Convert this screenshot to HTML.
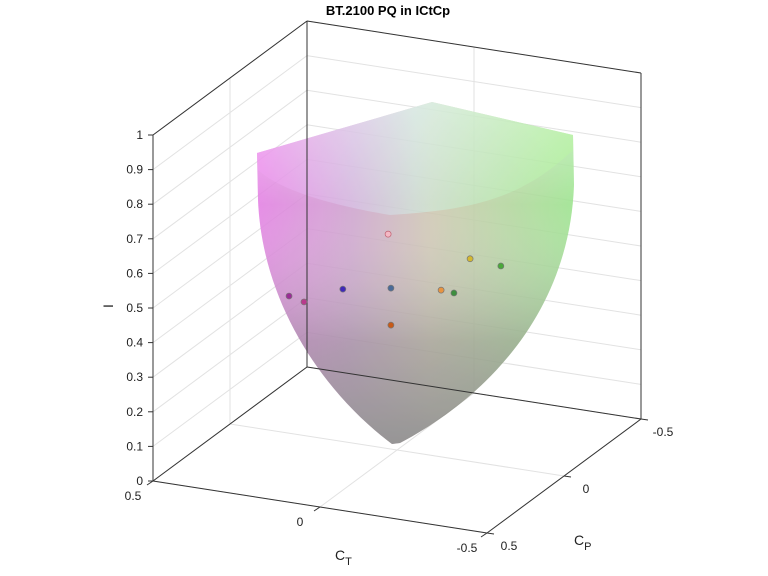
<!DOCTYPE html>
<html><head><meta charset="utf-8"><style>
html,body{margin:0;padding:0;background:#fff;}
svg{display:block;font-family:"Liberation Sans",sans-serif;}
</style></head><body>
<svg id="chart" width="768" height="576" viewBox="0 0 768 576">
<defs>
<linearGradient id="hue" x1="0" y1="0" x2="1" y2="0">
<stop offset="0" stop-color="#e070e0"/><stop offset="0.3" stop-color="#c898c8"/><stop offset="0.55" stop-color="#c8c0a8"/><stop offset="1" stop-color="#90e080"/>
</linearGradient>
<linearGradient id="shade" x1="0" y1="0" x2="0" y2="1">
<stop offset="0" stop-color="#fff" stop-opacity="0.5"/><stop offset="0.3" stop-color="#fff" stop-opacity="0.1"/><stop offset="0.7" stop-color="#888" stop-opacity="0.5"/><stop offset="1" stop-color="#858585" stop-opacity="0.95"/>
</linearGradient>
<linearGradient id="cap" x1="0" y1="0" x2="1" y2="0">
<stop offset="0" stop-color="#f490f4"/><stop offset="0.5" stop-color="#c8fcf4"/><stop offset="1" stop-color="#b0f890"/>
</linearGradient>
</defs>
<g id="grid"></g>
<g id="gamut" opacity="0.88">
<path d="M257,153 L432,102 L573,135 L574,185 C570,300 500,390 400,443 L392,444 C320,390 262,300 258,200 Z" fill="url(#hue)"/>
<path d="M257,153 L432,102 L573,135 L574,185 C570,300 500,390 400,443 L392,444 C320,390 262,300 258,200 Z" fill="url(#shade)"/>
<path d="M257,153 L432,102 L573,135 L573,150 C520,200 470,210 390,215 C330,205 280,190 258,170 Z" fill="url(#cap)" opacity="0.4"/>
</g>
<g id="box"></g>
<g id="pts"></g>
<g id="ticks" font-size="12" fill="#222"></g>
<text x="388" y="15" text-anchor="middle" font-size="13" font-weight="bold" fill="#000">BT.2100 PQ in ICtCp</text>
<text x="0" y="0" transform="translate(113,306) rotate(-90)" text-anchor="middle" font-size="14" fill="#222">I</text>
<text x="335" y="560" font-size="14" fill="#222">C<tspan font-size="11" dy="5">T</tspan></text>
<text x="574" y="545" font-size="14" fill="#222">C<tspan font-size="11" dy="5">P</tspan></text>
</svg>
<script>
const ptCT=[0.267,0.230,0.134,0.022,0.015,0.015,-0.109,-0.141,-0.181,-0.257];
const ptCP=[0.122,0.105,0.061,0.010,0.007,0.007,-0.050,-0.064,-0.082,-0.117];
const ptI=[0.445,0.428,0.465,0.624,0.468,0.361,0.462,0.454,0.553,0.532];
const ptColor=["#9a2c96","#b83a8c","#4028b8","#f4b8c4","#4a6a98","#c85a18","#e89440","#3e8e3e","#d4b830","#4aa83a"];
const iTicks=[0,0.1,0.2,0.3,0.4,0.5,0.6,0.7,0.8,0.9,1];
const ctTicks=[0.5,0,-0.5];
const cpTicks=[0.5,0,-0.5];
const NS="http://www.w3.org/2000/svg";
function P(ct,cp,i){const a=0.5-ct,b=0.5-cp;return [153+a*334+b*154,481+a*52-b*114-i*346];}
function line(g,p,q,st,w,name){const l=document.createElementNS(NS,'line');
l.setAttribute('x1',p[0]);l.setAttribute('y1',p[1]);l.setAttribute('x2',q[0]);l.setAttribute('y2',q[1]);
l.setAttribute('stroke',st);l.setAttribute('stroke-width',w);


g.appendChild(l);}
function txt(g,x,y,s,anchor,name){const t=document.createElementNS(NS,'text');t.setAttribute('x',x);t.setAttribute('y',y);t.setAttribute('text-anchor',anchor);t.textContent=s;


g.appendChild(t);}
const grid=document.getElementById('grid'),box=document.getElementById('box'),tk=document.getElementById('ticks'),pts=document.getElementById('pts');
const gc="#e2e2e2";
iTicks.forEach(v=>{line(grid,P(0.5,0.5,v),P(0.5,-0.5,v),gc,1,'grid-line-i-left');line(grid,P(0.5,-0.5,v),P(-0.5,-0.5,v),gc,1,'grid-line-i-back');});
ctTicks.forEach(v=>{line(grid,P(v,-0.5,0),P(v,-0.5,1),gc,1,'grid-line-ct-wall');line(grid,P(v,-0.5,0),P(v,0.5,0),gc,1,'grid-line-ct-floor');});
cpTicks.forEach(v=>{line(grid,P(0.5,v,0),P(0.5,v,1),gc,1,'grid-line-cp-wall');line(grid,P(0.5,v,0),P(-0.5,v,0),gc,1,'grid-line-cp-floor');});
const bc="#333";
[[[0.5,0.5,0],[-0.5,0.5,0]],[[-0.5,0.5,0],[-0.5,-0.5,0]],[[0.5,0.5,0],[0.5,-0.5,0]],[[0.5,-0.5,0],[-0.5,-0.5,0]],
[[0.5,0.5,0],[0.5,0.5,1]],[[0.5,-0.5,0],[0.5,-0.5,1]],[[-0.5,-0.5,0],[-0.5,-0.5,1]],
[[0.5,0.5,1],[0.5,-0.5,1]],[[0.5,-0.5,1],[-0.5,-0.5,1]]].forEach(e=>line(box,P(...e[0]),P(...e[1]),bc,1,'box-edge'));
iTicks.forEach(v=>{const p=P(0.5,0.5,v);line(box,p,[p[0]-5,p[1]],bc,1,'i-tick');txt(tk,p[0]-10,p[1]+4,String(v),'end','i-tick-label');});
ctTicks.forEach(v=>{const p=P(v,0.5,0);line(box,p,[p[0]-6,p[1]+4],bc,1,'ct-tick');txt(tk,p[0]-20,p[1]+19,String(v),'middle','ct-tick-label');});
cpTicks.forEach(v=>{const p=P(-0.5,v,0);line(box,p,[p[0]+7,p[1]+1],bc,1,'cp-tick');txt(tk,p[0]+22,p[1]+17,String(v),'middle','cp-tick-label');});
ptI.forEach((v,k)=>{const p=P(ptCT[k],ptCP[k],v);const c=document.createElementNS(NS,'circle');
c.setAttribute('cx',p[0]);c.setAttribute('cy',p[1]);c.setAttribute('r',3);c.setAttribute('fill',ptColor[k]);
c.setAttribute('stroke',k===3?'#c06070':'#777');c.setAttribute('stroke-width',0.7);


pts.appendChild(c);});
</script>
</body></html>
